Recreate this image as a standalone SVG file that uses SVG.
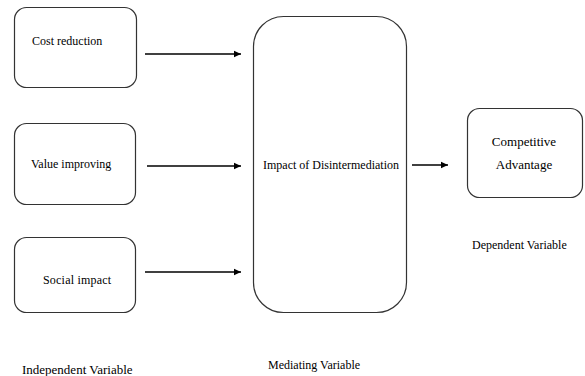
<svg xmlns="http://www.w3.org/2000/svg" width="585" height="376" viewBox="0 0 585 376" font-family="'Liberation Serif', 'Times New Roman', serif">
<defs>
<marker id="ah" markerWidth="8" markerHeight="8" refX="7" refY="4" orient="auto" markerUnits="userSpaceOnUse">
<path d="M0,0.8 L7,4 L0,7.2 Z" fill="#000"/>
</marker>
<style>
.box{fill:#fff;stroke:#333;stroke-width:1.2}
.t{font-size:12px;fill:#000}
.c{text-anchor:middle}
.conn line{stroke:#000;stroke-width:1.3;marker-end:url(#ah)}
</style>
</defs>
<rect width="585" height="376" fill="#fff"/>
<g id="cost">
<rect class="box" x="14.5" y="7.5" width="122" height="80" rx="12"/>
<text class="t" x="32" y="45">Cost reduction</text>
</g>
<g id="value">
<rect class="box" x="14.5" y="123.5" width="121" height="81" rx="12"/>
<text class="t" x="31" y="168">Value improving</text>
</g>
<g id="social">
<rect class="box" x="14.5" y="237.5" width="121" height="75" rx="12"/>
<text class="t" x="43" y="284" letter-spacing="0.2">Social impact</text>
</g>
<g id="mediator">
<rect class="box" x="253.5" y="16.5" width="153" height="296" rx="30"/>
<text class="t c" x="331" y="169">Impact of Disintermediation</text>
</g>
<g id="competitive">
<rect class="box" x="467.5" y="108.5" width="115" height="89" rx="12"/>
<text class="t c" x="524" y="146" style="font-size:13px">Competitive</text>
<text class="t c" x="524" y="169" style="font-size:13px">Advantage</text>
</g>
<g id="labels">
<text class="t" x="22" y="374" style="font-size:13px">Independent Variable</text>
<text class="t" x="268" y="369">Mediating Variable</text>
<text class="t" x="472" y="249">Dependent Variable</text>
</g>
<g class="conn">
<line x1="145" y1="54" x2="241" y2="54"/>
<line x1="147" y1="166" x2="241" y2="166"/>
<line x1="145" y1="272" x2="241" y2="272"/>
<line x1="412" y1="165" x2="448" y2="165"/>
</g>
</svg>
